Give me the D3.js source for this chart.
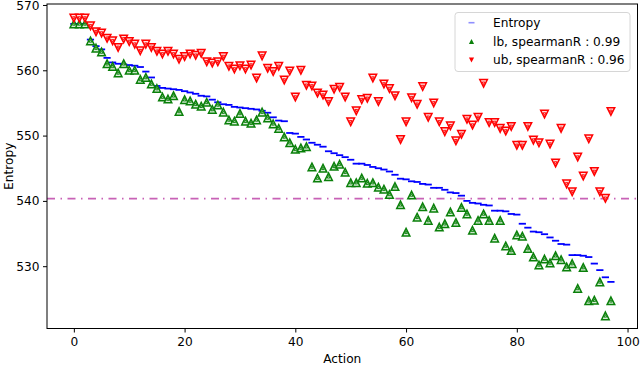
<!DOCTYPE html>
<html>
<head>
<meta charset="utf-8">
<script src="https://cdn.jsdelivr.net/npm/d3@7"></script>
<style>
  body { margin: 0; background: #fff; }
  text { font-family: "DejaVu Sans", sans-serif; }
</style>
</head>
<body>
<script>
// values, one per action 0..97
const entropy = [
  567.1, 567.1, 567.1, 564.7, 563.7, 563.2, 561.9, 561.2, 561.0, 560.9,
  560.8, 560.7, 560.5, 559.8, 558.9, 557.6, 557.3, 557.2, 557.1, 557.0,
  556.8, 556.6, 556.4, 556.1, 556.0, 555.5, 555.1, 554.8, 554.7, 554.4,
  554.3, 554.2, 554.1, 554.0, 553.8, 553.5, 552.8, 552.3, 552.2, 550.4,
  550.3, 549.8, 549.4, 548.9, 548.6, 548.3, 547.6, 547.3, 547.0, 546.7,
  546.3, 545.7, 545.7, 545.5, 545.2, 545.0, 544.8, 544.5, 544.0, 543.4,
  543.3, 543.0, 542.9, 542.6, 542.5, 542.0, 542.0, 541.7, 541.3, 541.2,
  540.8, 540.0, 539.7, 539.6, 539.4, 539.3, 538.5, 538.5, 538.4, 538.0,
  537.9, 536.5, 535.9, 535.3, 535.2, 534.9, 534.4, 533.9, 533.4, 533.3,
  531.7, 531.7, 531.6, 531.4, 530.4, 529.4, 528.3, 527.6
];
const lb = [
  567.1, 567.1, 567.1, 564.5, 563.4, 562.8, 561.0, 560.6, 559.6, 561.0,
  560.0, 560.0, 558.6, 558.9, 557.9, 557.2, 555.9, 555.6, 556.1, 553.7,
  555.5, 555.3, 554.8, 554.5, 555.1, 554.0, 554.7, 553.6, 552.4, 552.2,
  553.4, 552.2, 551.9, 552.4, 553.6, 552.7, 551.8, 551.1, 549.8, 548.9,
  547.9, 548.1, 548.3, 545.2, 543.5, 545.0, 543.7, 545.3, 545.6, 544.4,
  542.8, 542.8, 543.5, 542.7, 542.8, 542.1, 541.8, 541.0, 542.2, 539.4,
  535.2, 540.9, 537.5, 539.1, 537.0, 538.9, 536.0, 536.5, 538.3, 536.7,
  539.0, 538.0, 535.5, 537.0, 538.0, 537.0, 534.3, 537.0, 533.1, 532.4,
  534.8, 534.6, 532.7, 531.4, 530.2, 531.1, 530.5, 531.6, 531.0, 529.9,
  530.4, 526.6, 529.8, 524.7, 524.8, 527.6, 522.4, 524.7
];
const ub = [
  568.0, 568.0, 568.0, 566.8, 565.9, 565.7, 564.9, 564.5, 563.5, 564.8,
  564.4, 564.0, 563.0, 564.0, 563.5, 562.9, 562.5, 562.9, 562.5, 561.7,
  562.1, 562.5, 562.3, 562.6, 561.3, 561.1, 561.3, 562.1, 560.6, 560.2,
  560.7, 560.2, 560.8, 558.8, 562.2, 560.3, 559.8, 560.6, 558.5, 559.9,
  555.9, 560.0, 557.7, 557.6, 556.5, 556.2, 555.2, 557.1, 557.4, 555.9,
  552.1, 553.8, 555.5, 555.7, 558.8, 555.2, 557.9, 557.2, 556.1, 549.4,
  552.1, 555.8, 554.8, 557.5, 552.8, 555.0, 552.1, 550.6, 551.5, 549.2,
  550.2, 552.5, 551.6, 552.8, 558.0, 552.0, 552.0, 551.1, 550.7, 551.4,
  548.5, 548.5, 551.4, 549.3, 548.9, 553.3, 548.7, 545.8, 551.1, 542.6,
  541.4, 546.7, 543.8, 549.5, 544.5, 541.4, 540.4, 553.7
];
const threshold = 540.35;
const xTicks = [0, 20, 40, 60, 80, 100];
const yTicks = [530, 540, 550, 560, 570];
const legendLabels = ["Entropy", "lb, spearmanR : 0.99", "ub, spearmanR : 0.96"];

const m = { width: 640, height: 366, left: 47, right: 637.5, top: 4, bottom: 328.5 };
const fontSize = 12.2;

const svg = d3.select("body").append("svg")
  .attr("width", m.width)
  .attr("height", m.height);

const x = d3.scaleLinear().domain([-4.85, 101.8]).range([m.left, m.right]);
const y = d3.scaleLinear().domain([520.46, 570.15]).range([m.bottom, m.top]);

// triangles centred on their bounding box, like matplotlib markers
const triUp = s => `M0,${-s}L${s},${s}L${-s},${s}Z`;
const triDown = s => `M0,${s}L${s},${-s}L${-s},${-s}Z`;

// threshold line
svg.append("line")
  .attr("x1", m.left).attr("x2", m.right)
  .attr("y1", y(threshold)).attr("y2", y(threshold))
  .attr("stroke", "#c862b6")
  .attr("stroke-width", 1.8)
  .attr("stroke-dasharray", "8,5.5,1.5,5.5");

// entropy dashes
svg.append("g").selectAll("line")
  .data(entropy)
  .enter().append("line")
    .attr("x1", (d, i) => x(i) - 3.6)
    .attr("x2", (d, i) => x(i) + 3.6)
    .attr("y1", d => y(d))
    .attr("y2", d => y(d))
    .attr("stroke", "#0000ff")
    .attr("stroke-width", 1.8);

function drawMarkers(values, shape, color, fill) {
  const g = svg.append("g");
  const pts = g.selectAll("g")
    .data(values)
    .enter().append("g")
      .attr("transform", (d, i) => `translate(${x(i)},${y(d)})`);
  pts.append("path")
    .attr("d", shape(3.8))
    .attr("fill", fill)
    .attr("stroke", color)
    .attr("stroke-width", 1.5);
  pts.append("path")
    .attr("d", shape(1.3))
    .attr("fill", "none")
    .attr("stroke", color)
    .attr("stroke-width", 0.9);
}

drawMarkers(lb, triUp, "#0a800a", "#d8ecd8");
drawMarkers(ub, triDown, "#ff0000", "#ffe0e0");

// axes
const xAxis = svg.append("g")
  .attr("transform", `translate(0,${m.bottom})`)
  .call(d3.axisBottom(x).tickValues(xTicks).tickSize(4).tickPadding(4.5));
const yAxis = svg.append("g")
  .attr("transform", `translate(${m.left},0)`)
  .call(d3.axisLeft(y).tickValues(yTicks).tickSize(4).tickPadding(3.5));

[xAxis, yAxis].forEach(a => {
  a.select(".domain").remove();
  a.selectAll("text").attr("font-size", fontSize).attr("fill", "#000")
    .attr("font-family", "DejaVu Sans, sans-serif");
  a.selectAll("line").attr("stroke", "#000").attr("stroke-width", 1);
});
// keep the top label inside the picture
yAxis.selectAll(".tick text").filter(d => d === 570).attr("dy", "0.4em");

svg.append("rect")
  .attr("x", m.left).attr("y", m.top)
  .attr("width", m.right - m.left).attr("height", m.bottom - m.top)
  .attr("fill", "none")
  .attr("stroke", "#000")
  .attr("stroke-width", 1);

svg.append("text")
  .attr("x", (m.left + m.right) / 2)
  .attr("y", 363)
  .attr("text-anchor", "middle")
  .attr("font-size", fontSize)
  .text("Action");

svg.append("text")
  .attr("transform", `translate(13,${(m.top + m.bottom) / 2}) rotate(-90)`)
  .attr("text-anchor", "middle")
  .attr("font-size", fontSize)
  .text("Entropy");

// legend
const legend = svg.append("g");
legend.append("rect")
  .attr("x", 455).attr("y", 12.5)
  .attr("width", 175).attr("height", 59)
  .attr("rx", 3)
  .attr("fill", "#fff")
  .attr("fill-opacity", 0.8)
  .attr("stroke", "#d6d6d6");

const rows = [22.7, 41.5, 60];
legendLabels.forEach((label, i) => {
  legend.append("text")
    .attr("x", 493)
    .attr("y", rows[i])
    .attr("dy", "0.35em")
    .attr("font-size", fontSize)
    .attr("fill", "#000")
    .text(label);
});
legend.append("line")
  .attr("x1", 468.5).attr("x2", 474.5)
  .attr("y1", rows[0]).attr("y2", rows[0])
  .attr("stroke", "#8f8fff").attr("stroke-width", 1.6);
legend.append("path")
  .attr("transform", `translate(471.5,${rows[1]})`)
  .attr("d", triUp(2.6))
  .attr("fill", "#0a800a");
legend.append("path")
  .attr("transform", `translate(471.5,${rows[2]})`)
  .attr("d", triDown(2.6))
  .attr("fill", "#ff0000");
</script>
</body>
</html>
